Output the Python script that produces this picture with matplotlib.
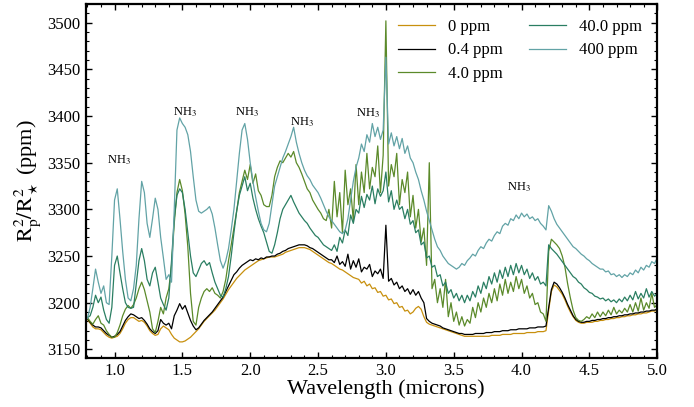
import numpy as np
import matplotlib
matplotlib.use("Agg")
import matplotlib.pyplot as plt
from matplotlib.ticker import MultipleLocator

# wavelength grid of the binned spectra (microns)
wavelength = np.round(np.arange(0.80, 5.0001, 0.02), 2)

# transit depth (ppm) for each NH3 mixing ratio
depth_0ppm = [
    3182, 3178, 3174, 3172, 3172, 3171, 3168, 3165, 3163, 3162,
    3163, 3164, 3167, 3172, 3178, 3182, 3184, 3184, 3182, 3180,
    3181, 3179, 3175, 3170, 3167, 3165, 3166, 3172, 3175, 3173,
    3171, 3166, 3162, 3160, 3158, 3158, 3159, 3161, 3163, 3166,
    3169, 3172, 3176, 3180, 3183, 3186, 3189, 3192, 3196, 3200,
    3204, 3209, 3214, 3218, 3222, 3226, 3229, 3232, 3235, 3237,
    3239, 3241, 3243, 3245, 3246, 3247, 3248, 3249, 3249, 3249,
    3250, 3251, 3252, 3254, 3255, 3256, 3257, 3258, 3259, 3259,
    3259, 3258, 3257, 3255, 3253, 3251, 3249, 3247, 3245, 3243,
    3242, 3240, 3238, 3236, 3235, 3233, 3231, 3229, 3227, 3226,
    3225, 3221, 3223, 3218, 3220, 3215, 3216, 3211, 3212, 3207,
    3208, 3203, 3204, 3199, 3200, 3195, 3196, 3191, 3192, 3188,
    3190, 3194, 3196, 3193, 3185, 3179, 3177, 3176, 3175, 3174,
    3173, 3172, 3171, 3170, 3169, 3168, 3167, 3166, 3165, 3164,
    3164, 3164, 3164, 3164, 3164, 3164, 3164, 3164, 3164, 3165,
    3165, 3165, 3165, 3166, 3166, 3166, 3166, 3167, 3167, 3167,
    3167, 3167, 3168, 3168, 3168, 3168, 3169, 3169, 3169, 3170,
    3192, 3212, 3219, 3217, 3213, 3209, 3203, 3196, 3190, 3185,
    3181, 3179, 3178, 3178, 3179, 3179, 3179, 3180, 3180, 3181,
    3181, 3182, 3182, 3183, 3183, 3184, 3184, 3185, 3185, 3186,
    3186, 3187, 3187, 3188, 3188, 3189, 3189, 3190, 3191, 3191,
    3192,
]

depth_04ppm = [
    3183, 3179, 3176, 3174, 3174, 3173, 3170, 3167, 3165, 3163,
    3164, 3166, 3169, 3175, 3181, 3185, 3188, 3187, 3185, 3183,
    3184, 3181, 3177, 3172, 3169, 3167, 3170, 3182, 3178, 3176,
    3178, 3172, 3186, 3192, 3199, 3193, 3197, 3189, 3181, 3175,
    3171, 3173, 3177, 3181, 3184, 3187, 3190, 3194, 3198, 3202,
    3206, 3212, 3218, 3224, 3230, 3233, 3237, 3240, 3242, 3244,
    3246, 3245, 3247, 3246, 3248, 3247, 3249, 3249, 3250, 3250,
    3252, 3253, 3255, 3256, 3258, 3259, 3260, 3261, 3262, 3262,
    3262, 3261, 3259, 3258, 3256, 3254, 3252, 3250, 3248, 3246,
    3246, 3243, 3250, 3241, 3244, 3239, 3252, 3236, 3245, 3238,
    3247, 3233, 3238, 3236, 3241, 3228, 3234, 3231, 3236, 3226,
    3283, 3223, 3226, 3219, 3222, 3215, 3218, 3212, 3215, 3209,
    3214, 3208, 3212, 3205, 3200, 3183, 3180, 3178, 3177, 3176,
    3175, 3173, 3172, 3171, 3170, 3169, 3168, 3167, 3167, 3166,
    3166, 3166, 3166, 3167, 3167, 3167, 3167, 3168, 3168, 3168,
    3169, 3169, 3169, 3170, 3170, 3170, 3171, 3171, 3171, 3172,
    3172, 3172, 3172, 3173, 3173, 3173, 3174, 3174, 3174, 3175,
    3195, 3214, 3222, 3220, 3216, 3211, 3205, 3198, 3192, 3186,
    3182, 3180, 3179, 3179, 3180, 3180, 3181, 3181, 3182, 3182,
    3183, 3183, 3184, 3184, 3185, 3185, 3186, 3186, 3187, 3187,
    3188, 3188, 3189, 3189, 3190, 3190, 3191, 3191, 3192, 3192,
    3193,
]

depth_4ppm = [
    3184, 3180, 3177, 3182, 3186, 3178, 3176, 3170, 3166, 3163,
    3163, 3168, 3176, 3186, 3193, 3197, 3194, 3198, 3205, 3215,
    3222, 3214, 3202, 3190, 3172, 3168, 3180, 3195, 3188, 3205,
    3215, 3240, 3285, 3318, 3332, 3320, 3295, 3260, 3210, 3180,
    3176, 3195, 3205, 3212, 3215, 3212, 3216, 3210, 3208, 3205,
    3212, 3225, 3245, 3262, 3280, 3298, 3318, 3330, 3342, 3332,
    3348, 3328, 3338, 3320, 3315, 3305, 3303, 3303, 3315, 3335,
    3345, 3352, 3350, 3355, 3360, 3356, 3362, 3350, 3345, 3338,
    3330, 3322, 3318, 3310, 3305, 3300, 3296, 3290, 3288, 3300,
    3280, 3330, 3292, 3318, 3275, 3342, 3305, 3322, 3288, 3348,
    3305, 3340, 3318, 3360, 3322, 3345, 3335, 3368, 3318, 3358,
    3502, 3325, 3348, 3335, 3360, 3305, 3332, 3318, 3340, 3292,
    3315, 3280, 3300, 3265, 3280, 3240, 3350, 3215, 3225, 3200,
    3215, 3195, 3225, 3185, 3200, 3180, 3190, 3176, 3185, 3175,
    3182, 3178, 3195, 3184, 3200, 3190, 3205, 3195, 3210, 3200,
    3215, 3202, 3220, 3208, 3225, 3210, 3222, 3212, 3228, 3215,
    3225, 3210, 3218, 3205, 3210, 3198, 3200, 3190, 3188, 3180,
    3255, 3268, 3265, 3262, 3258, 3250, 3238, 3220, 3205, 3192,
    3184, 3181, 3180, 3182, 3185, 3183, 3188, 3184, 3190, 3185,
    3190, 3186, 3192, 3187, 3195, 3188, 3192, 3189, 3194, 3190,
    3198, 3190, 3200, 3191, 3205, 3192, 3200, 3194, 3210, 3195,
    3198,
]

depth_40ppm = [
    3184, 3186, 3195, 3208, 3200, 3206, 3192, 3182, 3178, 3195,
    3240, 3250, 3232, 3215, 3200, 3195, 3194, 3195, 3220, 3245,
    3258, 3245, 3225, 3218, 3232, 3238, 3222, 3205, 3198, 3192,
    3205, 3245, 3290, 3315, 3322, 3318, 3300, 3275, 3250, 3232,
    3228, 3235, 3242, 3245, 3240, 3243, 3232, 3222, 3215, 3208,
    3206, 3215, 3228, 3250, 3275, 3298, 3315, 3325, 3335, 3320,
    3328, 3312, 3300, 3290, 3282, 3275, 3265, 3255, 3253, 3262,
    3275, 3290, 3300, 3305, 3310, 3315, 3308, 3302, 3296, 3292,
    3288, 3285, 3280, 3276, 3272, 3270, 3266, 3262, 3260, 3258,
    3256, 3262, 3255, 3270, 3264, 3278, 3272, 3294, 3285, 3300,
    3296, 3314, 3302, 3316, 3310, 3325, 3306, 3322, 3314, 3320,
    3340, 3308, 3320, 3300, 3310, 3300, 3303, 3290, 3300, 3284,
    3288, 3275, 3278, 3262, 3265, 3248, 3250, 3238, 3240, 3228,
    3230, 3218, 3222, 3210, 3214, 3205, 3210, 3202, 3208, 3200,
    3208, 3202, 3212, 3206, 3218, 3210, 3222, 3215, 3228, 3220,
    3232, 3222, 3235, 3226, 3238, 3228, 3240, 3230, 3242, 3232,
    3240, 3230, 3236, 3226, 3232, 3224, 3228, 3220, 3222, 3218,
    3262, 3258, 3255, 3252, 3248, 3244, 3240, 3236, 3232, 3228,
    3226, 3222, 3220, 3216, 3214, 3211, 3210, 3207, 3206, 3204,
    3205, 3202, 3204, 3201, 3203, 3200, 3204, 3201, 3206, 3202,
    3208, 3203, 3212, 3204, 3210, 3205, 3215, 3206, 3212, 3207,
    3210,
]

depth_400ppm = [
    3183, 3195, 3215, 3236, 3222, 3210, 3218, 3200, 3198, 3250,
    3310, 3322, 3290, 3255, 3225, 3205, 3202, 3215, 3240, 3290,
    3330, 3318, 3285, 3270, 3290, 3312, 3300, 3270, 3248, 3225,
    3230, 3222, 3300, 3385, 3398, 3392, 3388, 3380, 3362, 3335,
    3310, 3298, 3296, 3298, 3300, 3303, 3295, 3280, 3262, 3245,
    3237, 3245, 3258, 3278, 3300, 3330, 3360, 3385, 3392, 3375,
    3350, 3330, 3313, 3298, 3285, 3278, 3276, 3285, 3305, 3325,
    3335, 3345, 3355, 3362, 3370, 3378, 3388, 3372, 3360, 3350,
    3342, 3336, 3332, 3326, 3322, 3318, 3312, 3305, 3298, 3292,
    3288, 3284, 3280, 3276, 3274, 3278, 3290, 3310, 3330, 3345,
    3355, 3370, 3362, 3380, 3372, 3392, 3378, 3388, 3375, 3385,
    3463, 3370, 3382, 3368, 3378, 3365, 3376, 3360, 3368, 3355,
    3350, 3340, 3332, 3320, 3310, 3298, 3288, 3278, 3268, 3260,
    3256, 3250, 3246, 3242, 3240, 3238, 3236, 3238, 3242, 3240,
    3245, 3248, 3252, 3250, 3256, 3260, 3258, 3264, 3268, 3266,
    3272, 3276, 3274, 3282, 3285, 3283, 3290, 3288, 3294, 3290,
    3296, 3292, 3295, 3290, 3292, 3288, 3290, 3285, 3282, 3278,
    3304, 3298, 3290, 3284, 3280, 3276, 3272, 3268, 3264, 3260,
    3258, 3255, 3252, 3250, 3247, 3245, 3242, 3240, 3238, 3236,
    3236, 3233, 3234, 3230, 3231, 3228, 3230, 3227, 3230, 3228,
    3232, 3230, 3235, 3232, 3238, 3235, 3240, 3238, 3244, 3242,
    3248,
]

labels = ["0 ppm", "0.4 ppm", "4.0 ppm", "40.0 ppm", "400 ppm"]
colors = ["#c8900e", "#000000", "#5b8a2a", "#2a7e62", "#62a3a6"]

# NH3 band labels: (wavelength, depth)
nh3_x = [1.03, 1.52, 1.98, 2.38, 2.87, 3.98]
nh3_y = [3353, 3404, 3404, 3393, 3403, 3324]

plt.rcParams["font.family"] = ["Liberation Serif", "DejaVu Serif"]
plt.rcParams["mathtext.fontset"] = "stix"

fig = plt.figure(figsize=(6.94, 4.07), dpi=100)
ax = fig.add_axes([0.124, 0.121, 0.823, 0.869])

series = [depth_0ppm, depth_04ppm, depth_4ppm, depth_40ppm, depth_400ppm]
for ys, lab, c in zip(series, labels, colors):
    ax.plot(wavelength, ys, color=c, lw=0.9, label=lab)

for x, y in zip(nh3_x, nh3_y):
    ax.text(x, y, r"NH$_3$", fontsize=9, ha="center", va="center")

ax.set_xlim(0.79, 5.0)
ax.set_ylim(3141, 3520)
ax.xaxis.set_major_locator(MultipleLocator(0.5))
ax.xaxis.set_minor_locator(MultipleLocator(0.1))
ax.yaxis.set_major_locator(MultipleLocator(50))
ax.yaxis.set_minor_locator(MultipleLocator(10))
ax.tick_params(which="both", direction="in", top=True, right=True, labelsize=12)
ax.tick_params(which="major", length=4, width=1, pad=4)
ax.tick_params(which="minor", length=2.5, width=0.8)
for sp in ax.spines.values():
    sp.set_linewidth(1.6)

ax.set_xlabel("Wavelength (microns)", fontsize=16, labelpad=1)
ax.xaxis.set_label_coords(0.524, -0.062)
ax.set_ylabel(r"$\mathrm{R}_\mathrm{p}^2/\mathrm{R}_\star^2$ (ppm)", fontsize=16, labelpad=3)

ax.legend(loc="upper left", bbox_to_anchor=(0.546, 0.958), ncol=2, frameon=False,
          fontsize=12, handlelength=2.2, handletextpad=0.8, columnspacing=1.6,
          labelspacing=0.45, borderpad=0, borderaxespad=0)

fig.savefig("out.png", dpi=100)
